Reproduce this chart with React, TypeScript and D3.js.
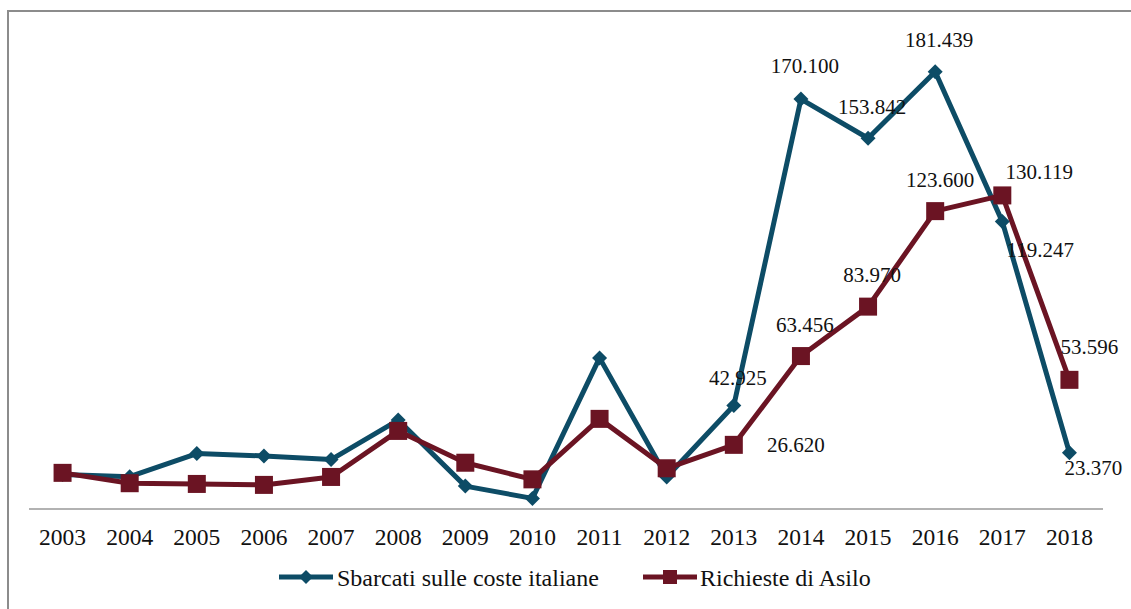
import React from "react";
import * as d3 from "d3";

// Data
const years = ["2003", "2004", "2005", "2006", "2007", "2008", "2009", "2010", "2011", "2012", "2013", "2014", "2015", "2016", "2017", "2018"];
const sbarcati = [14300, 13400, 23000, 22000, 20500, 36900, 9500, 4400, 62700, 13300, 42925, 170100, 153842, 181439, 119247, 23370];
const richieste = [15000, 10700, 10400, 10000, 13300, 32400, 19200, 12300, 37400, 16900, 26620, 63456, 83970, 123600, 130119, 53596];
// years that carry a value label, per series
const sbarcatiLabelled = ["2013", "2014", "2015", "2016", "2017", "2018"];
const richiesteLabelled = ["2013", "2014", "2015", "2016", "2017", "2018"];
const seriesNames = ["Sbarcati sulle coste italiane", "Richieste di Asilo"];

// label placement (offset from point, px)
const blueLabelPos: Record<string, [number, number]> = {
  "2013": [4, -28], "2014": [4, -33], "2015": [4, -31], "2016": [4, -32], "2017": [38, 28], "2018": [24, 15],
};
const redLabelPos: Record<string, [number, number]> = {
  "2013": [62, 0], "2014": [4, -31], "2015": [4, -32], "2016": [5, -31], "2017": [37, -23], "2018": [20, -33],
};

const width = 1131;
const height = 609;
const BLUE = "#0d4c66";
const RED = "#6b1423";
const FONT = "Liberation Serif";

const fmt = (v: number) => d3.format(",")(v).replace(/,/g, ".");

const App = () => {
  const x = d3.scaleBand<string>().domain(years).range([29, 1103]);
  const y = d3.scaleLinear().domain([0, 200000]).range([509, 27]);
  const cx = (d: string) => (x(d) as number) + x.bandwidth() / 2;

  const line = d3
    .line<number>()
    .x((_, i) => cx(years[i]))
    .y((d) => y(d))
    .curve(d3.curveLinear);

  const diamond = (px: number, py: number, r: number) =>
    `M${px},${py - r}L${px + r},${py}L${px},${py + r}L${px - r},${py}Z`;

  const txt = { fontFamily: FONT, fill: "#111" };

  return (
    <svg width={width} height={height} style={{ position: "absolute", left: 0, top: 0, background: "#fff" }}>
      {/* frame */}
      <rect x={8} y={11} width={width + 20} height={height + 20} fill="none" stroke="#8c8c8c" strokeWidth={2} />

      {/* axis */}
      <line x1={29} x2={1103} y1={y(0)} y2={y(0)} stroke="#999" strokeWidth={1.5} />
      {years.map((yr) => (
        <text key={yr} x={cx(yr)} y={537} fontSize={23.5} textAnchor="middle" dominantBaseline="central" style={txt}>
          {yr}
        </text>
      ))}

      {/* lines */}
      <path d={line(sbarcati) || ""} fill="none" stroke={BLUE} strokeWidth={5} strokeLinejoin="round" />
      <path d={line(richieste) || ""} fill="none" stroke={RED} strokeWidth={5} strokeLinejoin="round" />

      {sbarcati.map((v, i) => (
        <path key={"b" + i} d={diamond(cx(years[i]), y(v), 7.5)} fill={BLUE} />
      ))}
      {richieste.map((v, i) => (
        <rect key={"r" + i} x={cx(years[i]) - 9} y={y(v) - 9} width={18} height={18} fill={RED} />
      ))}

      {/* labels */}
      {years.map((yr, i) =>
        sbarcatiLabelled.includes(yr) ? (
          <text key={"lb" + yr} x={cx(yr) + blueLabelPos[yr][0]} y={y(sbarcati[i]) + blueLabelPos[yr][1]} fontSize={21} textAnchor="middle" dominantBaseline="central" style={txt}>
            {fmt(sbarcati[i])}
          </text>
        ) : null
      )}
      {years.map((yr, i) =>
        richiesteLabelled.includes(yr) ? (
          <text key={"lr" + yr} x={cx(yr) + redLabelPos[yr][0]} y={y(richieste[i]) + redLabelPos[yr][1]} fontSize={21} textAnchor="middle" dominantBaseline="central" style={txt}>
            {fmt(richieste[i])}
          </text>
        ) : null
      )}

      {/* legend */}
      <g>
        <line x1={279} x2={333} y1={577} y2={577} stroke={BLUE} strokeWidth={5} />
        <path d={diamond(306, 577, 7)} fill={BLUE} />
        <text x={337} y={578} fontSize={24} dominantBaseline="central" style={txt}>{seriesNames[0]}</text>
        <line x1={643} x2={697} y1={577} y2={577} stroke={RED} strokeWidth={5} />
        <rect x={663} y={570} width={14} height={14} fill={RED} />
        <text x={700} y={578} fontSize={24} dominantBaseline="central" style={txt}>{seriesNames[1]}</text>
      </g>
    </svg>
  );
};

export default App;
